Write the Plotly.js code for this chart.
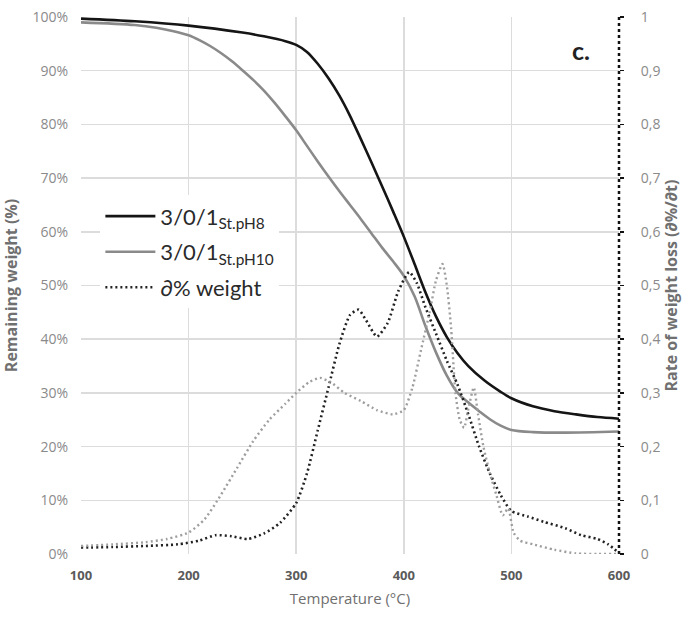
<!DOCTYPE html>
<html>
<head>
<meta charset="utf-8">
<script src="https://cdn.plot.ly/plotly-3.0.1.min.js"></script>
<style>html,body{margin:0;padding:0;background:#fff;}#chart{width:691px;height:621px;}</style>
</head>
<body>
<div id="chart"></div>
<script>
// Remaining weight (%) – 3/0/1 St.pH8
const tempPH8 = [100,150,200,250,270,290,300,310,320,330,340,350,360,370,380,390,400,410,420,430,440,450,460,475,490,500,520,540,560,580,600];
const weightPH8 = [99.7,99.2,98.4,97.1,96.4,95.5,94.8,93.5,91.3,88.6,85.4,81.6,77.3,72.9,68.4,63.8,59.1,54,48.8,44.2,40.4,37.4,35,32.3,30.2,29.0,27.5,26.6,26.0,25.5,25.2];

// Remaining weight (%) – 3/0/1 St.pH10
const tempPH10 = [100,150,170,185,200,210,220,230,240,250,260,270,280,290,300,310,320,330,340,350,360,370,380,390,400,410,420,430,440,450,460,470,480,490,500,520,550,600];
const weightPH10 = [99.0,98.5,98.0,97.4,96.6,95.7,94.6,93.3,91.8,90.1,88.3,86.3,84.0,81.5,78.9,76.0,73.1,70.3,67.6,65,62.4,59.7,57,54.5,51.8,48,42.5,37.5,33.2,30,28.2,26.6,25.1,23.9,23.1,22.7,22.6,22.8];

// Rate of weight loss – pH8 (black dotted)
const tempRate8 = [100,130,160,190,210,225,240,255,270,285,300,310,320,330,340,350,358,365,375,385,395,405,412,420,430,440,450,460,470,480,490,500,515,530,550,565,580,590,600];
const rate8 = [0.012,0.013,0.015,0.018,0.025,0.035,0.033,0.028,0.038,0.058,0.095,0.15,0.23,0.31,0.39,0.445,0.455,0.435,0.405,0.43,0.49,0.525,0.505,0.46,0.41,0.36,0.315,0.26,0.2,0.15,0.11,0.08,0.07,0.06,0.048,0.035,0.028,0.018,0.002];

// Rate of weight loss – pH10 (grey dotted)
const tempRate10 = [100,130,160,180,200,215,230,245,260,275,290,300,312,322,332,345,360,375,390,400,408,416,424,430,436,440,444,448,452,456,460,465,469,474,480,486,492,497,502,508,520,540,560,580,600];
const rate10 = [0.015,0.018,0.022,0.028,0.04,0.065,0.11,0.16,0.21,0.25,0.28,0.30,0.32,0.328,0.32,0.30,0.285,0.268,0.26,0.268,0.31,0.38,0.45,0.51,0.54,0.5,0.42,0.3,0.25,0.235,0.27,0.31,0.26,0.2,0.15,0.11,0.072,0.085,0.04,0.025,0.018,0.008,0.001,0,0];

const seriesNames = ['3/0/1<sub>St.pH8</sub>', '3/0/1<sub>St.pH10</sub>', '∂% weight'];
const xTicks = [100,200,300,400,500,600];

const traces = [
  {x: tempPH8, y: weightPH8, name: seriesNames[0], type: 'scatter', mode: 'lines',
   line: {color: '#151515', width: 2.6, shape: 'spline', smoothing: 0.8}, legendgroup: 'a'},
  {x: tempPH10, y: weightPH10, name: seriesNames[1], type: 'scatter', mode: 'lines',
   line: {color: '#8a8a8a', width: 2.6, shape: 'spline', smoothing: 0.9}, legendgroup: 'b'},
  {x: tempRate8, y: rate8, name: seriesNames[2], type: 'scatter', mode: 'lines', yaxis: 'y2',
   line: {color: '#222222', width: 2.6, dash: '2px,3px', shape: 'spline', smoothing: 0.6}, legendgroup: 'c'},
  {x: tempRate10, y: rate10, name: 'pH10 rate', type: 'scatter', mode: 'lines', yaxis: 'y2', showlegend: false,
   line: {color: '#9e9e9e', width: 2.4, dash: '2px,3px', shape: 'spline', smoothing: 0.6}}
];

const layout = {
  width: 691, height: 621,
  margin: {l: 81, r: 72, t: 17, b: 67},
  paper_bgcolor: '#fff', plot_bgcolor: '#fff',
  separators: ',.',
  showlegend: true,
  font: {family: 'Open Sans, sans-serif', color: '#7f7f7f'},
  xaxis: {
    range: [100, 600], tickvals: xTicks, showgrid: true, gridcolor: '#dcdcdc', gridwidth: 1.5,
    zeroline: false, showline: false, ticks: '', ticklabelstandoff: 12,
    tickfont: {size: 13, color: '#5a5a5a', weight: 'bold', family: 'Open Sans, sans-serif'},
    title: {text: 'Temperature (°C)', font: {size: 15, color: '#6f6f6f'}, standoff: 10}
  },
  yaxis: {
    range: [0, 100], dtick: 10, ticksuffix: '%', showgrid: true, gridcolor: '#dcdcdc', gridwidth: 1.5,
    zeroline: false, showline: false, ticks: '', ticklabelstandoff: 12,
    tickfont: {size: 14, color: '#8a8a8a'},
    title: {text: 'Remaining weight (%)', font: {size: 16, color: '#707070', weight: 'bold'}, standoff: 10}
  },
  yaxis2: {
    range: [0, 1], dtick: 0.1, overlaying: 'y', side: 'right', showgrid: false, zeroline: false,
    showline: false, ticks: 'outside', ticklen: 4, tickcolor: '#111', tickwidth: 1.5, ticklabelstandoff: 14,
    tickfont: {size: 14, color: '#8a8a8a'},
    title: {text: 'Rate of weight loss (∂%/∂t)', font: {size: 16, color: '#707070', weight: 'bold'}, standoff: 6}
  },
  legend: {
    x: 0.036, y: 0.668, xanchor: 'left', yanchor: 'top',
    bgcolor: '#ffffff', borderwidth: 0,
    font: {family: 'Lato, sans-serif', size: 22, color: '#2a2a2a'},
    traceorder: 'grouped', tracegroupgap: 4, itemwidth: 50
  },
  shapes: [
    {type: 'line', xref: 'paper', yref: 'paper', x0: 1, x1: 1, y0: 0, y1: 1,
     line: {color: '#111', width: 2.5, dash: 'dot'}}
  ],
  annotations: [
    {text: 'c.', xref: 'paper', yref: 'paper', x: 0.93, y: 0.938, xanchor: 'center', yanchor: 'middle',
     showarrow: false, font: {family: 'Lato, sans-serif', size: 25, color: '#222', weight: 'bold'}}
  ]
};

Plotly.newPlot('chart', traces, layout, {displayModeBar: false, staticPlot: true});
</script>
</body>
</html>
